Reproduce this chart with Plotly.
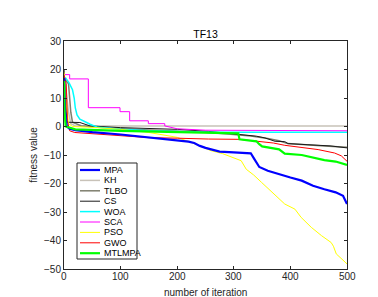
import plotly.graph_objects as go

names = ["MPA", "KH", "TLBO", "CS", "WOA", "SCA", "PSO", "GWO", "MTLMPA"]
colors = ["#0000FF", "#C8C2B8", "#7F7F6E", "#1A1A1A", "#00FFFF", "#FF00FF", "#FFFF00", "#FF0000", "#00FF00"]
widths = [2.2, 1.5, 1.5, 1, 1.5, 1, 1, 1, 2.2]

mpa_x = [0, 2, 5, 10, 20, 50, 100, 150, 200, 220, 230, 240, 250, 275, 300, 330, 335, 340, 345, 360, 380, 400, 420, 440, 460, 480, 493, 500]
mpa_y = [17, 5, 0, -0.8, -1.3, -2, -2.8, -3.8, -4.7, -5.3, -5.8, -6.8, -7.5, -8.8, -9.1, -9.4, -11, -12.5, -14.2, -15.5, -16.8, -17.9, -19, -20.8, -22, -23.1, -24.3, -27.2]

kh_x = [0, 4, 8, 12, 20, 500]
kh_y = [17, 12, 5, 1, 0.2, 0.2]

tlbo_x = [0, 8, 12, 15, 30, 80, 150, 200, 250, 300, 330, 360, 380, 395, 420, 460, 500]
tlbo_y = [17, 15, 5, 1.5, 0.3, -0.5, -1.2, -1.6, -2.0, -2.8, -3.3, -4.2, -5.0, -6.0, -6.4, -6.8, -7.3]

cs_x = [0, 3, 5, 28, 37, 46, 100, 200, 255, 313, 340, 355, 373, 390, 396, 431, 470, 500]
cs_y = [20, 8, 1.5, 1.4, 0.8, 0.2, -0.4, -1.0, -1.7, -2.9, -3.4, -4.0, -5.2, -5.3, -6.0, -6.4, -6.8, -7.5]

woa_x = [0, 3, 9, 15, 18, 20, 23, 28, 40, 46, 60, 100, 150, 250, 500]
woa_y = [16, 17, 15.3, 12.9, 10, 6.5, 4.1, 2.6, 1.4, 0.8, -0.3, -1.0, -1.5, -2.0, -2.0]

sca_x = [0, 10, 10, 43, 43, 99, 99, 116, 116, 149, 149, 178, 178, 200, 250, 500]
sca_y = [18.2, 18.2, 16.7, 16.7, 6.6, 6.6, 5.2, 5.2, 2.0, 2.0, 1.0, 1.0, 0.2, -0.8, -1.3, -1.5]

pso_x = [0, 3, 8, 15, 50, 100, 150, 180, 200, 230, 250, 260, 280, 300, 313, 322, 335, 349, 372, 390, 408, 419, 437, 455, 472, 476, 481, 490, 500]
pso_y = [19, 10, 1, 0, -0.3, -1, -2.1, -3, -3.8, -6, -7.5, -8.5, -9.5, -11, -12, -15, -17, -19.6, -23.7, -27.2, -29, -31.9, -35.4, -38.3, -40.7, -42, -44.7, -46.5, -48.2]

gwo_x = [0, 4, 6, 10, 19, 60, 102, 149, 200, 230, 255, 310, 343, 370, 390, 449, 478, 490, 500]
gwo_y = [18, 15, 2, -1.5, -2.1, -2.7, -3.3, -3.9, -4.1, -4.3, -4.4, -4.5, -5.2, -5.8, -6.6, -8.1, -9.3, -10.3, -12.2]

mtl_x = [0, 1, 3, 20, 100, 200, 300, 308, 310, 340, 345, 350, 380, 390, 420, 440, 460, 480, 500]
mtl_y = [16, 5, 0, -1, -1.5, -2, -2.3, -2.4, -4.5, -5.2, -6.2, -7, -8, -9.5, -10, -11, -11.8, -12.3, -13.5]

xs = [mpa_x, kh_x, tlbo_x, cs_x, woa_x, sca_x, pso_x, gwo_x, mtl_x]
ys = [mpa_y, kh_y, tlbo_y, cs_y, woa_y, sca_y, pso_y, gwo_y, mtl_y]

x_ticks = [0, 100, 200, 300, 400, 500]
y_ticks = [-50, -40, -30, -20, -10, 0, 10, 20, 30]

fig = go.Figure()
order = [1, 2, 3, 4, 5, 6, 7, 0, 8]
for i in order:
    fig.add_trace(go.Scatter(x=xs[i], y=ys[i], mode="lines", name=names[i],
                             line=dict(color=colors[i], width=widths[i]),
                             showlegend=False))

W, H = 378, 297
L, R, T, B = 56, 339, 33, 261
def px(xp):
    return (xp - L) / (R - L)
def py(yp):
    return (B - yp) / (B - T)

# manual legend (MATLAB style)
fig.add_shape(type="rect", xref="paper", yref="paper", x0=px(69), x1=px(129), y0=py(251), y1=py(155),
              line=dict(color="#262626", width=1), fillcolor="white", layer="above")
for k, n in enumerate(names):
    yp = 162 + k * 10.4
    fig.add_shape(type="line", xref="paper", yref="paper", x0=px(72), x1=px(92), y0=py(yp), y1=py(yp),
                  line=dict(color=colors[k], width=widths[k]), layer="above")
    fig.add_annotation(text=n, xref="paper", yref="paper", x=px(94), y=py(yp), xanchor="left",
                       yanchor="middle", showarrow=False, font=dict(size=9, color="#000000"))

# x tick labels placed closer to the axis (MATLAB style)
for v in x_ticks:
    fig.add_annotation(text=str(v), xref="x", yref="paper", x=v, y=py(268), xanchor="center",
                       yanchor="middle", showarrow=False, font=dict(size=10, color="#262626"))
fig.add_annotation(text="number of iteration", xref="paper", yref="paper", x=0.5, y=py(284),
                   xanchor="center", yanchor="middle", showarrow=False, font=dict(size=10, color="#262626"))

axis_common = dict(showline=True, linecolor="#262626", linewidth=1, mirror="ticks", ticks="inside",
                   ticklen=3, tickcolor="#262626", showgrid=False, zeroline=False,
                   tickfont=dict(size=10, color="#262626"))
fig.update_xaxes(range=[0, 500], tickvals=x_ticks, showticklabels=False, **axis_common)
fig.update_yaxes(range=[-50, 30], tickvals=y_ticks, title=dict(text="fitness value", standoff=4,
                 font=dict(size=10, color="#262626")), **axis_common)

fig.update_layout(width=W, height=H, margin=dict(l=L, r=W - R, t=T, b=H - B, autoexpand=False),
                  paper_bgcolor="white", plot_bgcolor="white",
                  font=dict(family="Liberation Sans, Arial, sans-serif", color="#262626"),
                  title=dict(text="TF13", xref="paper", x=0.5, xanchor="center", y=1 - 26.5 / H,
                             yanchor="middle", font=dict(size=10.5, color="#000000")))

fig.write_html("out.html")
